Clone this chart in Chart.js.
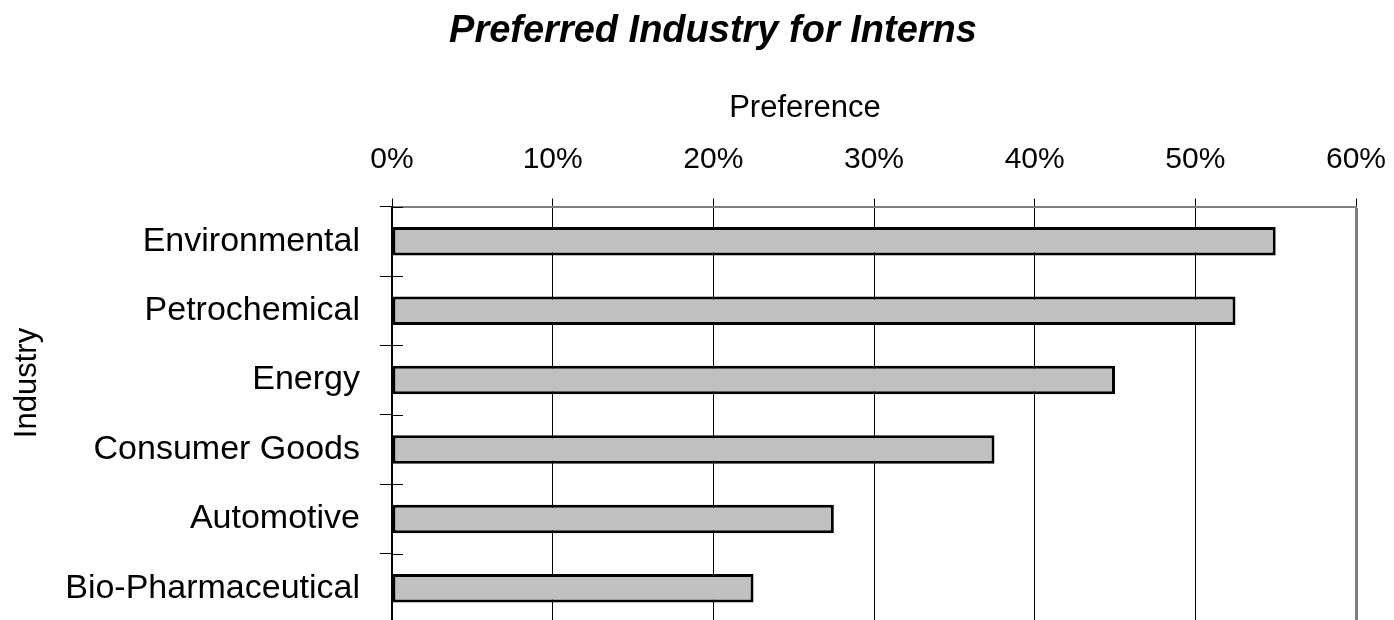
<!DOCTYPE html>
<html>
<head>
<meta charset="utf-8">
<script src="https://cdn.jsdelivr.net/npm/chart.js@4.4.1/dist/chart.umd.min.js"></script>
<style>
	html, body { margin: 0; padding: 0; background: #fff; overflow: hidden; }
	#wrap { width: 1394px; height: 623px; position: relative; }
</style>
</head>
<body>
<div id="wrap"><canvas id="chart"></canvas></div>
<script>
const industries = ["Environmental", "Petrochemical", "Energy", "Consumer Goods", "Automotive", "Bio-Pharmaceutical"];
const preference = [55, 52.5, 45, 37.5, 27.5, 22.5];
const tickValues = [0, 10, 20, 30, 40, 50, 60];

const FONT = "'Liberation Sans', Arial, sans-serif";

// short marks on the inner side of the category axis, between bars
const innerTicks = {
	id: "innerTicks",
	afterDatasetsDraw(chart) {
		const y = chart.scales.y;
		const ctx = chart.ctx;
		const half = (y.getPixelForValue(1) - y.getPixelForValue(0)) / 2;
		ctx.save();
		ctx.strokeStyle = "#000";
		ctx.lineWidth = 1;
		for (let i = 0; i < industries.length; i++) {
			const py = Math.round(y.getPixelForValue(i) - half) + 0.5;
			ctx.beginPath();
			ctx.moveTo(y.right, py);
			ctx.lineTo(y.right + 11, py);
			ctx.stroke();
		}
		ctx.restore();
	},
};

// axis titles, placed off-centre the way the original sits
const axisTitles = {
	id: "axisTitles",
	afterDraw(chart) {
		const x = chart.scales.x;
		const ctx = chart.ctx;
		ctx.save();
		ctx.font = "31px " + FONT;
		ctx.fillStyle = "#000";
		ctx.textAlign = "center";
		ctx.textBaseline = "middle";
		ctx.fillText("Preference", (x.left + x.right) / 2 - 69, x.top + 20 + 18.6);
		ctx.translate(27, 383);
		ctx.rotate(-Math.PI / 2);
		ctx.fillText("Industry", 0, 0);
		ctx.restore();
	},
};

new Chart(document.getElementById("chart"), {
	type: "bar",
	data: {
		labels: industries,
		datasets: [
			{
				label: "Preference",
				data: preference,
				backgroundColor: "#c0c0c0",
				borderColor: "#000",
				borderWidth: 3,
				borderSkipped: false,
				barPercentage: 0.41,
				categoryPercentage: 1,
			},
		],
	},
	options: {
		indexAxis: "y",
		responsive: true,
		maintainAspectRatio: false,
		animation: false,
		layout: { padding: { left: 40, right: 8, top: 0, bottom: 0 } },
		plugins: {
			legend: { display: false },
			tooltip: { enabled: false },
			title: {
				display: true,
				text: "Preferred Industry for Interns",
				color: "#000",
				font: { family: FONT, size: 38, weight: "bold", style: "italic" },
				padding: { top: 9, bottom: 15 },
			},
		},
		scales: {
			x: {
				position: "top",
				min: 0,
				max: 60,
				afterBuildTicks: (scale) => {
					scale.ticks = tickValues.map((v) => ({ value: v }));
				},
				afterFit: (scale) => {
					scale.height = 137;
					scale.paddingRight = 38;
				},
				ticks: {
					color: "#000",
					font: { family: FONT, size: 30 },
					padding: 21,
					maxRotation: 0,
					callback: (v) => v + "%",
				},
				grid: {
					color: (c) => (c.index === tickValues.length - 1 ? "#808080" : "#000"),
					lineWidth: (c) => (c.index === tickValues.length - 1 ? 3 : 1),
					tickColor: "#000",
					tickWidth: 1,
					tickLength: 8,
				},
				border: { display: true, color: "#808080", width: 2 },
				title: {
					display: true,
					text: "Preference",
					color: "rgba(0,0,0,0)",
					font: { family: FONT, size: 31 },
					padding: { top: 20, bottom: 0 },
				},
			},
			y: {
				afterFit: (scale) => {
					scale.width = 352;
					scale.paddingBottom = 0;
				},
				ticks: {
					color: "#000",
					font: { family: FONT, size: 34 },
					padding: 20,
				},
				grid: {
					offset: true,
					drawOnChartArea: false,
					color: "#000",
					tickLength: 12,
				},
				border: { display: true, color: "#000", width: 2 },
			},
		},
	},
	plugins: [innerTicks, axisTitles],
});
</script>
</body>
</html>
